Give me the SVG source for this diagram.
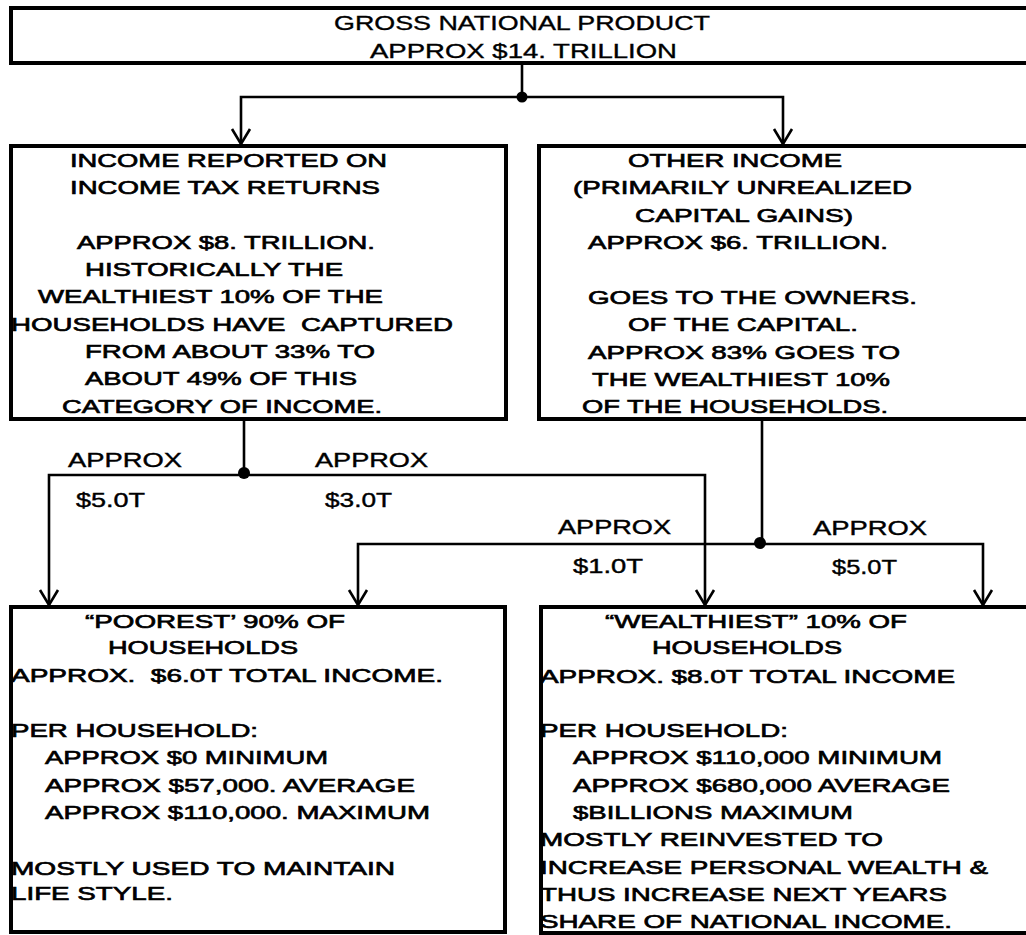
<svg xmlns="http://www.w3.org/2000/svg" width="1026" height="935" viewBox="0 0 1026 935">
<style>
text{font-family:"Liberation Sans",Arial,sans-serif;fill:#000}
.t{font-size:19px;stroke:#000;stroke-width:0.65}
.h{font-size:20px;stroke:#000;stroke-width:0.35}
.l{font-size:20px;stroke:#000;stroke-width:0.4}
.box{fill:none;stroke:#000;stroke-width:4}
.con{fill:none;stroke:#000;stroke-width:2.6}
.dot{fill:#000}
</style>
<defs>
<marker id="arr" viewBox="-17 -11 20 22" markerWidth="20" markerHeight="22" refX="0" refY="0" orient="auto" markerUnits="userSpaceOnUse">
<path d="M-15,-9 L0,0 L-15,9" fill="none" stroke="#000" stroke-width="2.6"/>
</marker>
</defs>
<rect x="0" y="0" width="1026" height="935" fill="#fff"/>

<g id="gnp">
<text class="h" x="334" y="29.5" textLength="376" lengthAdjust="spacingAndGlyphs">GROSS NATIONAL PRODUCT</text>
<text class="h" x="370" y="58" textLength="307" lengthAdjust="spacingAndGlyphs">APPROX $14. TRILLION</text>
<rect class="box" x="11" y="8" width="1030" height="55"/>
</g>

<g id="reported">
<text class="t" x="70" y="167" textLength="317" lengthAdjust="spacingAndGlyphs">INCOME REPORTED ON</text>
<text class="t" x="70" y="193.5" textLength="310" lengthAdjust="spacingAndGlyphs">INCOME TAX RETURNS</text>
<text class="t" x="77" y="248.5" textLength="298" lengthAdjust="spacingAndGlyphs">APPROX $8. TRILLION.</text>
<text class="t" x="85" y="276" textLength="258" lengthAdjust="spacingAndGlyphs">HISTORICALLY THE</text>
<text class="t" x="38" y="303" textLength="345" lengthAdjust="spacingAndGlyphs">WEALTHIEST 10% OF THE</text>
<text class="t" x="11" y="330.5" textLength="442" lengthAdjust="spacingAndGlyphs" xml:space="preserve">HOUSEHOLDS HAVE  CAPTURED</text>
<text class="t" x="85" y="358" textLength="290" lengthAdjust="spacingAndGlyphs">FROM ABOUT 33% TO</text>
<text class="t" x="85" y="385" textLength="272" lengthAdjust="spacingAndGlyphs">ABOUT 49% OF THIS</text>
<text class="t" x="62" y="413" textLength="320" lengthAdjust="spacingAndGlyphs">CATEGORY OF INCOME.</text>
<rect class="box" x="11" y="146" width="495" height="273"/>
</g>

<g id="other">
<text class="t" x="628" y="167" textLength="214" lengthAdjust="spacingAndGlyphs">OTHER INCOME</text>
<text class="t" x="573" y="194" textLength="339" lengthAdjust="spacingAndGlyphs">(PRIMARILY UNREALIZED</text>
<text class="t" x="635" y="221.5" textLength="218" lengthAdjust="spacingAndGlyphs">CAPITAL GAINS)</text>
<text class="t" x="588" y="249" textLength="300" lengthAdjust="spacingAndGlyphs">APPROX $6. TRILLION.</text>
<text class="t" x="588" y="303.5" textLength="329" lengthAdjust="spacingAndGlyphs">GOES TO THE OWNERS.</text>
<text class="t" x="628" y="331" textLength="230" lengthAdjust="spacingAndGlyphs">OF THE CAPITAL.</text>
<text class="t" x="588" y="358.5" textLength="312" lengthAdjust="spacingAndGlyphs">APPROX 83% GOES TO</text>
<text class="t" x="592" y="386" textLength="298" lengthAdjust="spacingAndGlyphs">THE WEALTHIEST 10%</text>
<text class="t" x="582" y="413" textLength="306" lengthAdjust="spacingAndGlyphs">OF THE HOUSEHOLDS.</text>
<rect class="box" x="539" y="146" width="500" height="273"/>
</g>

<g id="poorest">
<text class="t" x="85" y="628" textLength="260" lengthAdjust="spacingAndGlyphs">“POOREST’ 90% OF</text>
<text class="t" x="108" y="654" textLength="190" lengthAdjust="spacingAndGlyphs">HOUSEHOLDS</text>
<text class="t" x="11" y="682" textLength="432" lengthAdjust="spacingAndGlyphs" xml:space="preserve">APPROX.  $6.0T TOTAL INCOME.</text>
<text class="t" x="11" y="737" textLength="247" lengthAdjust="spacingAndGlyphs">PER HOUSEHOLD:</text>
<text class="t" x="45" y="764" textLength="283" lengthAdjust="spacingAndGlyphs">APPROX $0 MINIMUM</text>
<text class="t" x="45" y="792" textLength="370" lengthAdjust="spacingAndGlyphs">APPROX $57,000. AVERAGE</text>
<text class="t" x="45" y="818.5" textLength="385" lengthAdjust="spacingAndGlyphs">APPROX $110,000. MAXIMUM</text>
<text class="t" x="11" y="875" textLength="384" lengthAdjust="spacingAndGlyphs">MOSTLY USED TO MAINTAIN</text>
<text class="t" x="11" y="900" textLength="162" lengthAdjust="spacingAndGlyphs">LIFE STYLE.</text>
<rect class="box" x="11" y="607" width="494" height="325"/>
</g>

<g id="wealthiest">
<text class="t" x="605" y="628" textLength="302" lengthAdjust="spacingAndGlyphs">“WEALTHIEST” 10% OF</text>
<text class="t" x="652" y="654" textLength="190" lengthAdjust="spacingAndGlyphs">HOUSEHOLDS</text>
<text class="t" x="540" y="683" textLength="415" lengthAdjust="spacingAndGlyphs">APPROX. $8.0T TOTAL INCOME</text>
<text class="t" x="540" y="737" textLength="248" lengthAdjust="spacingAndGlyphs">PER HOUSEHOLD:</text>
<text class="t" x="573" y="764" textLength="369" lengthAdjust="spacingAndGlyphs">APPROX $110,000 MINIMUM</text>
<text class="t" x="573" y="792" textLength="377" lengthAdjust="spacingAndGlyphs">APPROX $680,000 AVERAGE</text>
<text class="t" x="573" y="818.5" textLength="280" lengthAdjust="spacingAndGlyphs">$BILLIONS MAXIMUM</text>
<text class="t" x="540" y="846" textLength="343" lengthAdjust="spacingAndGlyphs">MOSTLY REINVESTED TO</text>
<text class="t" x="540" y="873.5" textLength="448" lengthAdjust="spacingAndGlyphs">INCREASE PERSONAL WEALTH &amp;</text>
<text class="t" x="540" y="901" textLength="407" lengthAdjust="spacingAndGlyphs">THUS INCREASE NEXT YEARS</text>
<text class="t" x="540" y="928" textLength="412" lengthAdjust="spacingAndGlyphs">SHARE OF NATIONAL INCOME.</text>
<rect class="box" x="541" y="607" width="500" height="326"/>
</g>

<g id="connectors">
<path class="con" d="M522,63 V97"/>
<path class="con" d="M522,97 H241 V144" marker-end="url(#arr)"/>
<path class="con" d="M522,97 H783 V144" marker-end="url(#arr)"/>
<circle class="dot" cx="522" cy="97" r="5.5"/>

<path class="con" d="M244,419 V475"/>
<path class="con" d="M244,475 H49 V605" marker-end="url(#arr)"/>
<path class="con" d="M244,475 H705 V605" marker-end="url(#arr)"/>
<circle class="dot" cx="244" cy="473" r="6"/>

<path class="con" d="M762,419 V544"/>
<path class="con" d="M762,544 H358 V605" marker-end="url(#arr)"/>
<path class="con" d="M762,544 H983 V605" marker-end="url(#arr)"/>
<circle class="dot" cx="760" cy="543" r="6"/>

<text class="l" x="68" y="467" textLength="114" lengthAdjust="spacingAndGlyphs">APPROX</text>
<text class="l" x="76" y="507" textLength="69" lengthAdjust="spacingAndGlyphs">$5.0T</text>
<text class="l" x="315" y="467" textLength="113" lengthAdjust="spacingAndGlyphs">APPROX</text>
<text class="l" x="325" y="507" textLength="67" lengthAdjust="spacingAndGlyphs">$3.0T</text>
<text class="l" x="558" y="534" textLength="113" lengthAdjust="spacingAndGlyphs">APPROX</text>
<text class="l" x="573" y="573" textLength="70" lengthAdjust="spacingAndGlyphs">$1.0T</text>
<text class="l" x="813" y="535" textLength="114" lengthAdjust="spacingAndGlyphs">APPROX</text>
<text class="l" x="832" y="574" textLength="65" lengthAdjust="spacingAndGlyphs">$5.0T</text>
</g>
</svg>
